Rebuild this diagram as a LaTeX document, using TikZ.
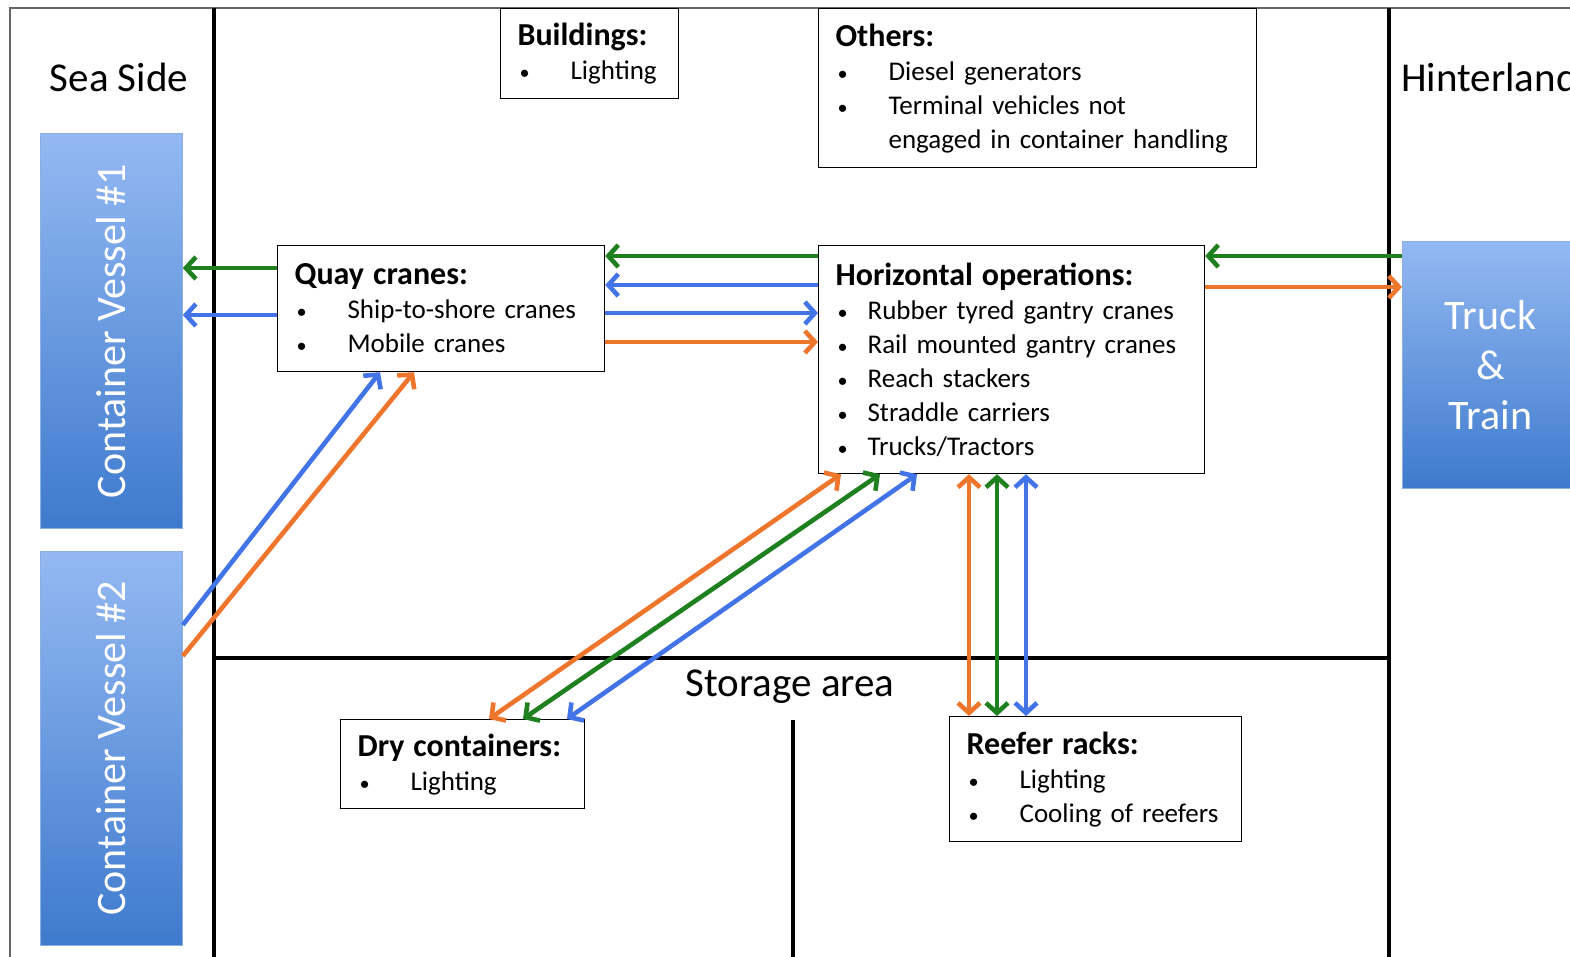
\documentclass[tikz,border=0pt]{standalone}
\usepackage{fontspec}
\setmainfont{Carlito}
\usepackage{xcolor}
\usetikzlibrary{arrows.meta}
\definecolor{flowgreen}{RGB}{30,128,30}
\definecolor{flowblue}{RGB}{66,116,232}
\definecolor{floworange}{RGB}{238,118,44}
\definecolor{boxtop}{RGB}{148,185,242}
\definecolor{boxbot}{RGB}{62,122,205}
\tikzset{
  infobox/.style={draw, line width=0.6pt, anchor=north west, align=left,
    inner xsep=8.5pt, inner ysep=0pt, font=\fontsize{13.5}{17}\selectfont},
  bluebox/.style={draw=boxbot!60!white, line width=0.4pt, top color=boxtop,
    bottom color=boxbot, text=white, font=\fontsize{21}{25}\selectfont,
    align=center, anchor=north west, inner sep=0pt},
  flow/.style={line width=2.3pt},
  divider/.style={line width=2pt},
  zone/.style={font=\fontsize{20.5}{24}\selectfont}
}
\newcommand{\boxtitle}[1]{{\fontsize{16}{17}\selectfont\bfseries #1}}
\newcommand{\itm}[2][26.5pt]{\makebox[#1][l]{\hspace{1pt}\scalebox{0.75}{\textbullet}}#2}

\begin{document}
\begin{tikzpicture}[x=0.5pt, y=-0.5pt, >={Straight Barb[length=5pt,width=11pt]}]
    \useasboundingbox (0,0) rectangle (1570,957);
    % frame and zones
    \draw[black!60, line width=0.8pt] (10,957) -- (10,8) -- (1570,8);
    \draw[divider] (214,8) -- (214,957);
    \draw[divider] (1389,8) -- (1389,957);
    \draw[divider] (214,658) -- (1389,658);
    \draw[line width=1.6pt] (793,720) -- (793,957);
    \node[zone] (seaside) at (119,77) {Sea Side};
    \node[zone, anchor=west, inner sep=0pt] (hinter) at (1401,77) {Hinterland};
    \node[zone] (storage) at (790,687) {Storage area};
    % ships and land transport
    \node[bluebox, minimum width=71pt, minimum height=197.5pt] (ves1) at (40,133)
        {\rotatebox{90}{Container Vessel \#1}};
    \node[bluebox, minimum width=71pt, minimum height=197pt] (ves2) at (40,551)
        {\rotatebox{90}{Container Vessel \#2}};
    \node[bluebox, minimum width=88pt, minimum height=123.5pt] (truck) at (1402,241)
        {Truck\\\&\\Train};
    % energy consumers
    \node[infobox, text width=72pt, minimum height=45pt] (bldg) at (500,8)
        {\boxtitle{Buildings:}\\ \itm{Lighting}};
    \node[infobox, text width=202pt, minimum height=79.5pt] (others) at (818,8)
        {\boxtitle{Others:}\\ \itm{Diesel generators}\\ \itm{Terminal vehicles not}\\
         \hspace*{26.5pt}engaged in container handling};
    \node[infobox, text width=146.5pt, minimum height=63pt] (quay) at (277,245)
        {\boxtitle{Quay cranes:}\\ \itm{Ship-to-shore cranes}\\ \itm{Mobile cranes}};
    \node[infobox, text width=176pt, minimum height=114pt] (horiz) at (818,245)
        {\boxtitle{Horizontal operations:}\\ \itm[16pt]{Rubber tyred gantry cranes}\\
         \itm[16pt]{Rail mounted gantry cranes}\\ \itm[16pt]{Reach stackers}\\
         \itm[16pt]{Straddle carriers}\\ \itm[16pt]{Trucks/Tractors}};
    \node[infobox, text width=105pt, minimum height=44.5pt] (dry) at (340,719)
        {\boxtitle{Dry containers:}\\ \itm{Lighting}};
    \node[infobox, text width=129pt, minimum height=62.5pt] (reefer) at (949,716)
        {\boxtitle{Reefer racks:}\\ \itm{Lighting}\\ \itm{Cooling of reefers}};
    % quay side flows
    \draw[flow, flowgreen, ->] (quay.west |- 0,268) -- (ves1.east |- 0,268);
    \draw[flow, flowblue, ->] (quay.west |- 0,315) -- (ves1.east |- 0,315);
    \draw[flow, flowblue, ->] (ves2.east |- 0,625) -- (quay.south -| 380,0);
    \draw[flow, floworange, ->] (ves2.east |- 0,656) -- (quay.south -| 414,0);
    \draw[flow, flowgreen, ->] (horiz.west |- 0,256) -- (quay.east |- 0,256);
    \draw[flow, flowblue, ->] (horiz.west |- 0,285) -- (quay.east |- 0,285);
    \draw[flow, flowblue, ->] (quay.east |- 0,313) -- (horiz.west |- 0,313);
    \draw[flow, floworange, ->] (quay.east |- 0,342) -- (horiz.west |- 0,342);
    % hinterland flows
    \draw[flow, flowgreen, ->] (truck.west |- 0,256) -- (horiz.east |- 0,256);
    \draw[flow, floworange, ->] (horiz.east |- 0,287) -- (truck.west |- 0,287);
    % storage flows
    \draw[flow, floworange, <->] (horiz.south -| 841,0) -- (dry.north -| 489,0);
    \draw[flow, flowgreen, <->] (horiz.south -| 880,0) -- (dry.north -| 523,0);
    \draw[flow, flowblue, <->] (horiz.south -| 917,0) -- (dry.north -| 567,0);
    \draw[flow, floworange, <->] (horiz.south -| 969,0) -- (reefer.north -| 969,0);
    \draw[flow, flowgreen, <->] (horiz.south -| 997,0) -- (reefer.north -| 997,0);
    \draw[flow, flowblue, <->] (horiz.south -| 1026,0) -- (reefer.north -| 1026,0);
\end{tikzpicture}
\end{document}
